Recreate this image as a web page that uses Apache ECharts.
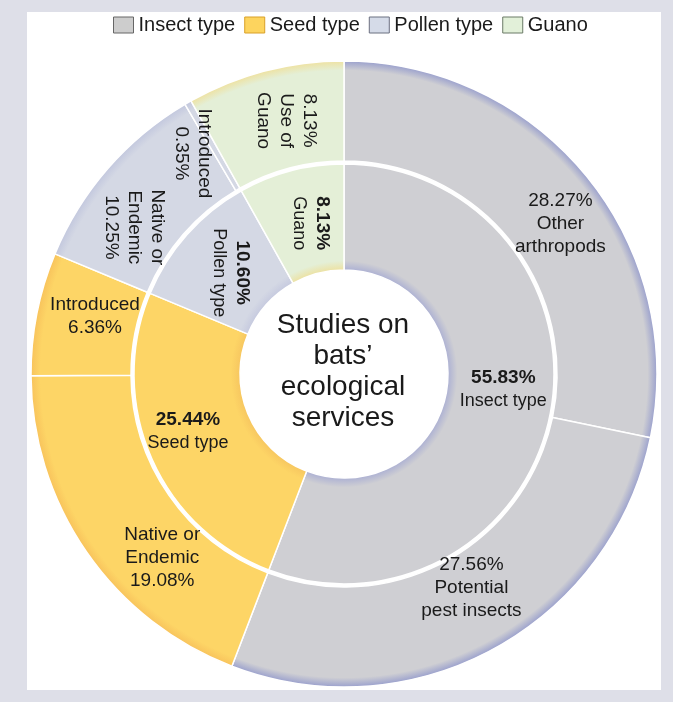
<!DOCTYPE html>
<html>
<head>
<meta charset="utf-8">
<title>Studies on bats' ecological services</title>
<script src="https://cdn.jsdelivr.net/npm/echarts@6/dist/echarts.min.js"></script>
<style>
  html, body { margin: 0; padding: 0; }
  body { width: 673px; height: 702px; background: #dedfe8; position: relative; overflow: hidden; }
  #panel { position: absolute; left: 27px; top: 12px; width: 634px; height: 678px; background: #ffffff; }
  #chart { position: absolute; left: 0; top: 0; width: 673px; height: 702px; }
</style>
</head>
<body>
<div id="panel"></div>
<div id="chart"></div>
<script>
// Service groups (inner ring), shares in percent of all studies
const groupNames = ['Insect type', 'Seed type', 'Pollen type', 'Guano'];
const groupShares = [55.83, 25.44, 10.60, 8.13];

// Sub-categories (outer ring) and the group each belongs to
const subNames = ['Other\narthropods', 'Potential\npest insects', 'Native or\nEndemic', 'Introduced',
                  'Native or\nEndemic', 'Introduced', 'Use of\nGuano'];
const subShares = [28.27, 27.56, 19.08, 6.36, 10.25, 0.35, 8.13];
const subGroup = [0, 0, 1, 1, 2, 2, 3];

const centerTitle = 'Studies on\nbats\u2019\necological\nservices';

// Geometry and styling
const CX = 344, CY = 374, R = 313;
const FONT = '"Liberation Sans", Arial, sans-serif';

// Radial shading for each group: tinted rims at the hole and the outer edge
const shades = [
  { rim: '#aeb2d3', body: '#cfcfd3', outer: '#9ba1cd' },
  { rim: '#f7c760', body: '#fdd566', outer: '#f8c35c' },
  { rim: '#c6cadf', body: '#d4d8e4', outer: '#c3c8de' },
  { rim: '#ece2a4', body: '#e4efd7', outer: '#eee2a2' }
];
const legendSwatch = [
  { color: '#cdcdcd', borderColor: '#666666' },
  { color: '#fdd45e', borderColor: '#d9a028' },
  { color: '#d5dbe8', borderColor: '#6b7080' },
  { color: '#e2f0d9', borderColor: '#6b7a66' }
];

function fill(g) {
  const s = shades[g];
  return {
    type: 'radial', x: CX, y: CY, r: R, global: true,
    colorStops: [
      { offset: 0.0, color: s.rim },
      { offset: 0.333, color: s.rim },
      { offset: 0.362, color: s.body },
      { offset: 0.970, color: s.body },
      { offset: 1.0, color: s.outer }
    ]
  };
}

// label tweaks: rotation and small nudges away from the slice centroid
// (nudges are given in the label's own, possibly rotated, frame)
const innerRotate = [0, 0, -90, -90];
const innerNudge = [[2, -14], [-9, -6], [5, -6], [4, -7]];
const outerRotate = [0, 0, 0, 0, -90, -90, -90];
const outerNudge = [[10, 18], [0, -20], [37, 32], [12, -6], [28, 9], [10, 19], [4, -9]];
const percentFirst = [true, true, false, false, false, false, true];

const fmt = v => v.toFixed(2) + '%';

const innerData = groupNames.map((name, i) => ({
  name: name,
  value: groupShares[i],
  itemStyle: { color: fill(i) },
  label: {
    rotate: innerRotate[i],
    formatter: '{p|' + fmt(groupShares[i]) + '}\n{n|' + name + '}'
  }
}));

const outerData = subNames.map((name, i) => ({
  name: name.replace('\n', ' ') + ' (' + groupNames[subGroup[i]] + ')',
  value: subShares[i],
  itemStyle: { color: fill(subGroup[i]) },
  label: {
    rotate: outerRotate[i],
    formatter: percentFirst[i] ? fmt(subShares[i]) + '\n' + name : name + '\n' + fmt(subShares[i])
  }
}));

const chart = echarts.init(document.getElementById('chart'), null, { renderer: 'canvas' });

chart.setOption({
  animation: false,
  backgroundColor: 'transparent',
  legend: {
    left: 108,
    top: 10,
    itemWidth: 20,
    itemHeight: 16,
    itemGap: 9,
    selectedMode: false,
    textStyle: { fontFamily: FONT, fontSize: 20, color: '#1a1a1a' },
    data: groupNames.map((n, i) => ({
      name: n,
      icon: 'rect',
      itemStyle: { color: legendSwatch[i].color, borderColor: legendSwatch[i].borderColor, borderWidth: 1 }
    }))
  },
  graphic: [{
    type: 'text',
    x: CX - 1,
    y: CY - 2,
    z: 100,
    style: {
      text: centerTitle,
      font: '28px ' + FONT,
      fill: '#1a1a1a',
      align: 'center',
      verticalAlign: 'middle',
      lineHeight: 31
    }
  }],
  series: [
    {
      name: 'Services',
      type: 'pie',
      center: [CX, CY],
      radius: [104, 210],
      startAngle: 90,
      clockwise: true,
      avoidLabelOverlap: false,
      silent: true,
      itemStyle: { borderColor: '#ffffff', borderWidth: 1.5 },
      label: {
        show: true,
        position: 'inside',
        color: '#1a1a1a',
        fontFamily: FONT,
        rich: {
          p: { fontFamily: FONT, fontSize: 19, fontWeight: 'bold', color: '#1a1a1a', lineHeight: 23 },
          n: { fontFamily: FONT, fontSize: 18, color: '#1a1a1a', lineHeight: 23 }
        }
      },
      labelLine: { show: false },
      labelLayout: p => ({ dx: innerNudge[p.dataIndex][0], dy: innerNudge[p.dataIndex][1] }),
      data: innerData
    },
    {
      name: 'Sub-categories',
      type: 'pie',
      center: [CX, CY],
      radius: [213, R],
      startAngle: 90,
      clockwise: true,
      avoidLabelOverlap: false,
      silent: true,
      itemStyle: { borderColor: '#ffffff', borderWidth: 1.5 },
      label: {
        show: true,
        position: 'inside',
        color: '#1a1a1a',
        fontFamily: FONT,
        fontSize: 19,
        lineHeight: 23
      },
      labelLine: { show: false },
      labelLayout: p => ({ dx: outerNudge[p.dataIndex][0], dy: outerNudge[p.dataIndex][1] }),
      data: outerData
    }
  ]
});
</script>
</body>
</html>
